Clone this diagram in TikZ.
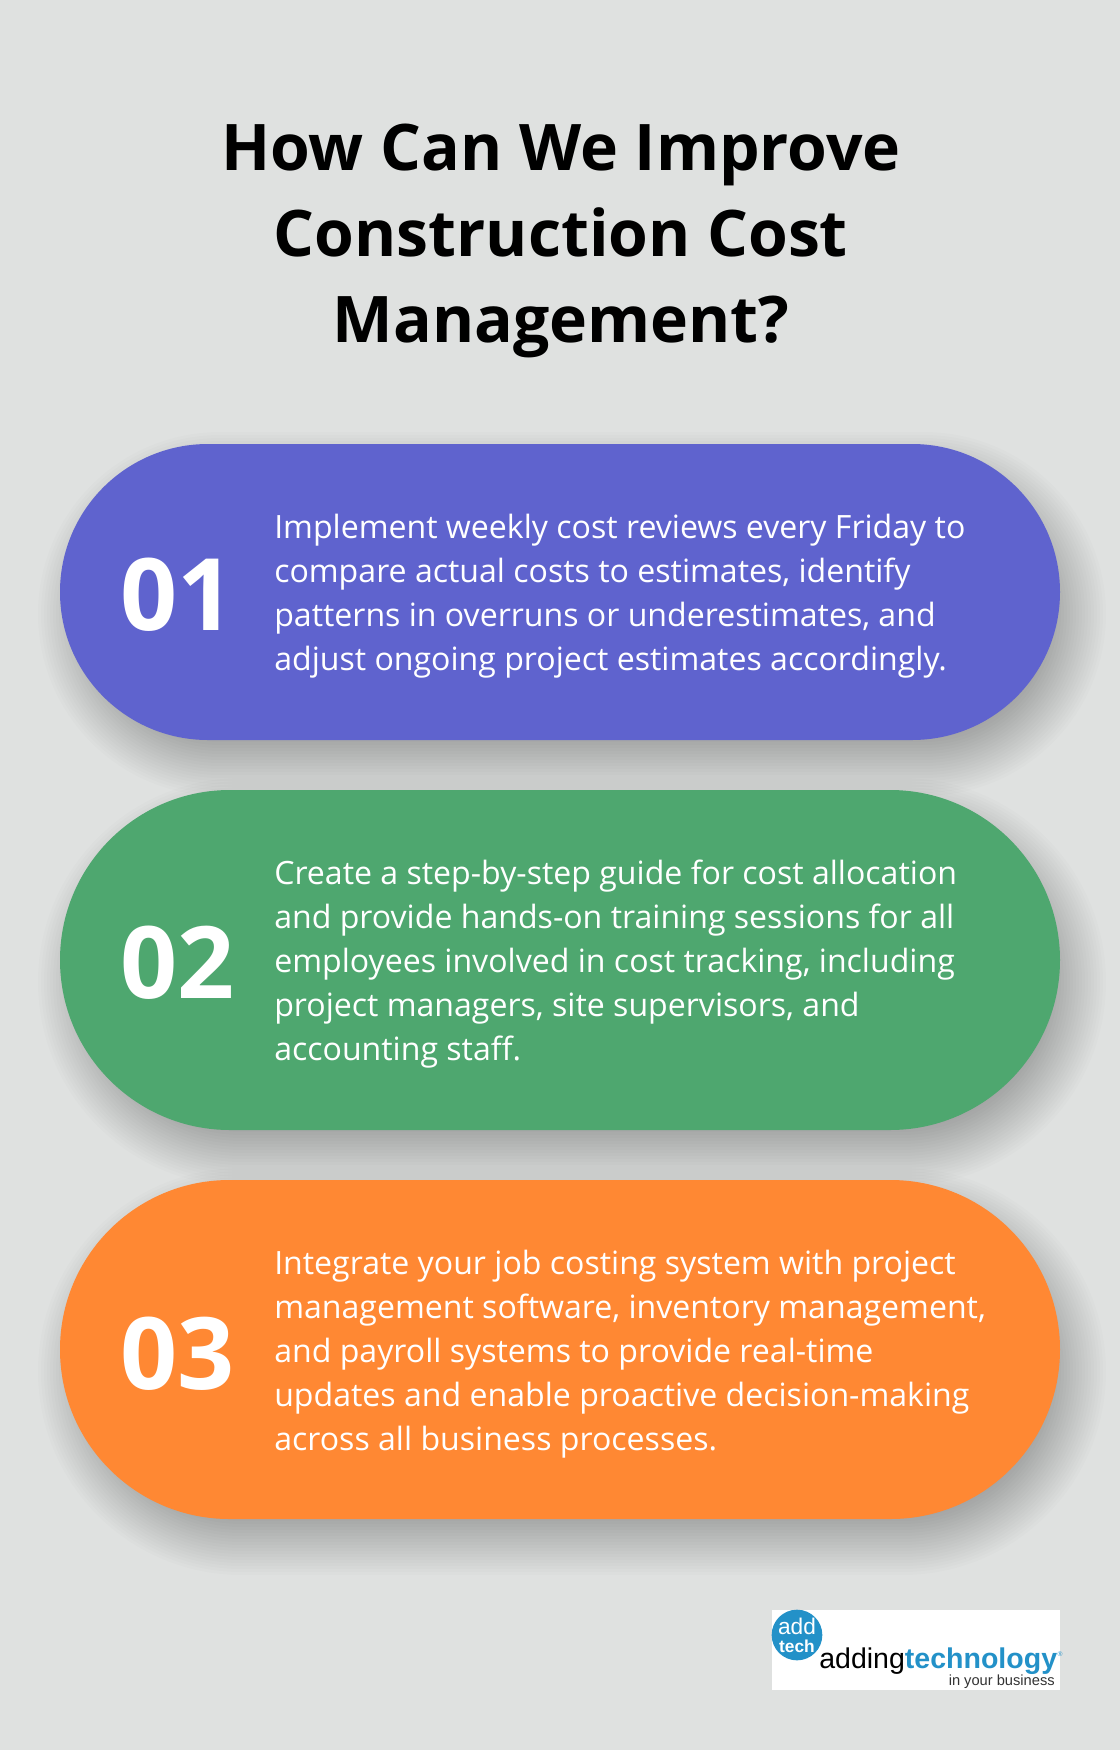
\documentclass[tikz,border=0pt]{standalone}
\usepackage{fontspec}
\setmainfont{Open Sans}
\newfontfamily\logofont{Liberation Sans}
\definecolor{bgcol}{HTML}{DFE1E0}
\definecolor{purplecol}{HTML}{5F63CE}
\definecolor{greencol}{HTML}{4EA76F}
\definecolor{orangecol}{HTML}{FF8833}
\definecolor{logoblue}{HTML}{2391C8}
\tikzset{
  pill/.style={minimum width=750pt,inner sep=0pt,text width=0pt},
  title/.style={align=center,text=black,font=\fontsize{48.2pt}{64.5pt}\selectfont\bfseries},
  num/.style={anchor=west,inner sep=0pt,text=white,font=\fontsize{75pt}{80pt}\selectfont\bfseries},
  body/.style={anchor=west,inner sep=0pt,align=left,text=white,font=\fontsize{24.06pt}{33pt}\selectfont}
}
\newcommand{\pillshadow}[2]{
  \foreach \e in {-26,-23,...,34}
    \fill[black,opacity=0.012,rounded corners={((#2-#1)/2+\e)*0.75pt}]
      (60+12-\e,#1+22-\e) rectangle (1060+12+\e,#2+22+\e);
}
\begin{document}
\begin{tikzpicture}[x=0.75pt,y=-0.75pt]
\useasboundingbox (0,0) rectangle (1120,1750);
\fill[bgcol] (0,0) rectangle (1120,1750);
\node[title] (head) at (561,241) {How Can We Improve\\Construction Cost\\Management?};
\pillshadow{444}{740}
\pillshadow{790}{1130}
\pillshadow{1180}{1519}
\node[pill,fill=purplecol,minimum height=222pt,rounded corners=111pt] (p1) at (560,592) {};
\node[pill,fill=greencol,minimum height=255pt,rounded corners=127.5pt] (p2) at (560,960) {};
\node[pill,fill=orangecol,minimum height=254.25pt,rounded corners=127.1pt] (p3) at (560,1349.5) {};
\node[num] (n1) at (120,595) {01};
\node[num] (n2) at (120,963) {02};
\node[num] (n3) at (120,1353.5) {03};
\node[body] (t1) at (274,596.5) {Implement weekly cost reviews every Friday to\\compare actual costs to estimates, identify\\patterns in overruns or underestimates, and\\adjust ongoing project estimates accordingly.};
\node[body] (t2) at (274,964.5) {Create a step-by-step guide for cost allocation\\and provide hands-on training sessions for all\\employees involved in cost tracking, including\\project managers, site supervisors, and\\accounting staff.};
\node[body] (t3) at (274,1354.5) {Integrate your job costing system with project\\management software, inventory management,\\and payroll systems to provide real-time\\updates and enable proactive decision-making\\across all business processes.};
% logo
\node[fill=white,minimum width=216pt,minimum height=60pt,inner sep=0pt] (logo) at (916,1650) {};
\node[circle,fill=logoblue,minimum size=38pt,inner sep=0pt] (badge) at (797,1635) {};
\node[text=white,inner sep=0pt,font=\logofont\fontsize{17pt}{17pt}\selectfont] (add) at (797,1626) {add};
\node[text=white,inner sep=0pt,font=\logofont\fontsize{13pt}{13pt}\selectfont\bfseries] (tech) at (797,1646) {tech};
\node[anchor=base west,inner sep=0pt,text=black,font=\logofont\fontsize{21.4pt}{21.4pt}\selectfont] (word) at (819,1668) {adding\textcolor{logoblue}{\bfseries technology}};
\node[anchor=base west,inner sep=0pt,text=logoblue,font=\logofont\fontsize{5pt}{5pt}\selectfont] (reg) at ([yshift=9pt]word.base east) {®};
\node[anchor=base east,inner sep=0pt,text=black!80,font=\logofont\fontsize{11pt}{11pt}\selectfont] (sub) at (1055,1685) {in your business};
\end{tikzpicture}
\end{document}
